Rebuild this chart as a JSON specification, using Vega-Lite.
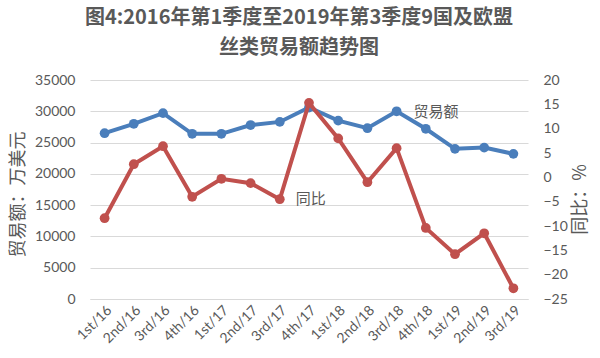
{
  "$schema": "https://vega.github.io/schema/vega-lite/v6.json",
  "width": 438,
  "height": 219,
  "autosize": {"type": "none"},
  "padding": {"left": 90, "top": 80, "right": 72, "bottom": 59},
  "background": "white",
  "title": {
    "text": ["图4:2016年第1季度至2019年第3季度9国及欧盟", "丝类贸易额趋势图"],
    "fontSize": 20,
    "fontWeight": "bold",
    "font": "Noto Sans CJK SC",
    "color": "#595959",
    "lineHeight": 30,
    "anchor": "middle",
    "dx": -10,
    "offset": 15
  },
  "config": {
    "view": {"stroke": null},
    "axis": {
      "labelFont": "Lato",
      "labelFontSize": 14,
      "labelColor": "#595959",
      "titleFont": "Noto Sans CJK SC",
      "titleFontSize": 18,
      "titleFontWeight": "normal",
      "titleColor": "#595959",
      "ticks": false,
      "domain": false
    }
  },
  "data": {
    "values": [
      {"q": "1st/16", "amount": 26500, "yoy": -8.4},
      {"q": "2nd/16", "amount": 28000, "yoy": 2.7},
      {"q": "3rd/16", "amount": 29700, "yoy": 6.4},
      {"q": "4th/16", "amount": 26400, "yoy": -4.0},
      {"q": "1st/17", "amount": 26400, "yoy": -0.3},
      {"q": "2nd/17", "amount": 27800, "yoy": -1.2},
      {"q": "3rd/17", "amount": 28300, "yoy": -4.5},
      {"q": "4th/17", "amount": 30600, "yoy": 15.3},
      {"q": "1st/18", "amount": 28500, "yoy": 8.0},
      {"q": "2nd/18", "amount": 27300, "yoy": -1.0},
      {"q": "3rd/18", "amount": 30000, "yoy": 6.0},
      {"q": "4th/18", "amount": 27200, "yoy": -10.4},
      {"q": "1st/19", "amount": 24000, "yoy": -15.8},
      {"q": "2nd/19", "amount": 24200, "yoy": -11.5},
      {"q": "3rd/19", "amount": 23200, "yoy": -22.8}
    ]
  },
  "encoding": {
    "x": {
      "field": "q",
      "type": "ordinal",
      "sort": null,
      "scale": {"type": "band", "paddingInner": 0, "paddingOuter": 0},
      "axis": {
        "title": null,
        "labelAngle": -45,
        "labelPadding": 4,
        "domain": true,
        "domainColor": "#d9d9d9",
        "grid": false
      }
    }
  },
  "layer": [
    {
      "encoding": {
        "y": {
          "field": "amount",
          "type": "quantitative",
          "scale": {"domain": [0, 35000], "nice": false, "zero": false},
          "axis": {
            "orient": "left",
            "title": "贸易额：万美元",
            "format": "d",
            "values": [0, 5000, 10000, 15000, 20000, 25000, 30000, 35000],
            "grid": true,
            "gridColor": "#d9d9d9",
            "gridWidth": 1,
            "labelPadding": 15,
            "titleX": -72,
            "titleY": 114,
            "titleAngle": 270,
            "titleAlign": "center",
            "titleBaseline": "middle"
          }
        }
      },
      "layer": [
        {
          "mark": {"type": "line", "color": "#4a7ebb", "strokeWidth": 4, "point": {"filled": true, "size": 95, "color": "#4a7ebb"}}
        },
        {
          "transform": [{"filter": "datum.q === '3rd/18'"}],
          "mark": {"type": "text", "text": "贸易额", "align": "left", "baseline": "middle", "dx": 17, "dy": 1, "fontSize": 15, "font": "Noto Sans CJK SC", "color": "#595959"}
        }
      ]
    },
    {
      "encoding": {
        "y": {
          "field": "yoy",
          "type": "quantitative",
          "scale": {"domain": [-25, 20], "nice": false, "zero": false},
          "axis": {
            "orient": "right",
            "title": "同比：%",
            "values": [-25, -20, -15, -10, -5, 0, 5, 10, 15, 20],
            "grid": false,
            "labelPadding": 15,
            "titleX": 52,
            "titleY": 119,
            "titleAngle": 270,
            "titleAlign": "center",
            "titleBaseline": "middle"
          }
        }
      },
      "layer": [
        {
          "mark": {"type": "line", "color": "#c0504d", "strokeWidth": 4, "point": {"filled": true, "size": 95, "color": "#c0504d"}}
        },
        {
          "transform": [{"filter": "datum.q === '3rd/17'"}],
          "mark": {"type": "text", "text": "同比", "align": "left", "baseline": "middle", "dx": 16, "dy": 0, "fontSize": 15, "font": "Noto Sans CJK SC", "color": "#595959"}
        }
      ]
    }
  ],
  "resolve": {"scale": {"y": "independent"}}
}
